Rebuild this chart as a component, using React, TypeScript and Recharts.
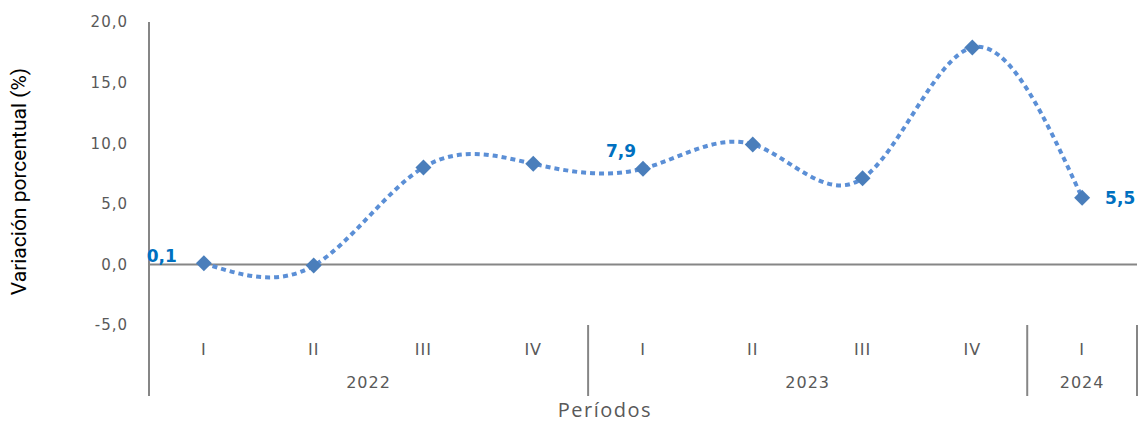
import React from 'react';
import { ComposedChart, Line, XAxis, YAxis, ReferenceLine, LabelList } from 'recharts';

const quarters = ['I', 'II', 'III', 'IV', 'I', 'II', 'III', 'IV', 'I'];
const years = ['2022', '2022', '2022', '2022', '2023', '2023', '2023', '2023', '2024'];
const variation = [0.1, -0.1, 8.0, 8.3, 7.9, 9.9, 7.1, 17.9, 5.5];
const shownLabels = [true, false, false, false, true, false, false, false, true];
const yTicks = [-5, 0, 5, 10, 15, 20];

const data = quarters.map((q, i) => ({
  key: `${years[i]}-${q}-${i}`,
  quarter: q,
  year: years[i],
  value: variation[i],
  label: shownLabels[i] ? variation[i].toFixed(1).replace('.', ',') : '',
}));

const W = 1141;
const H = 425;
const LEFT = 149;
const RIGHT = 4;
const TOP = 22;
const PLOT_H = 303;
const AXIS_H = 71;
const BAND = (W - LEFT - RIGHT) / quarters.length;
const GRAY = '#868686';
const TEXT = '#595959';
const BLUE = '#0070C0';
const FONT = "'DejaVu Sans', Verdana, sans-serif";

const fmt = (v: number) => v.toFixed(1).replace('.', ',');

function QuarterTick(props: any) {
  const { x, y, payload, index } = props;
  const i = index ?? payload.index;
  const year = years[i];
  const first = i === 0 || years[i - 1] !== year;
  const last = i === years.length - 1;
  let groupSize = 0;
  for (let j = i; j < years.length && years[j] === year; j++) groupSize++;
  return (
    <g>
      <text x={x} y={y + 25} textAnchor="middle" dominantBaseline="middle"
        fontFamily={FONT} fontSize={16} letterSpacing={1} fill={TEXT}>
        {quarters[i]}
      </text>
      {first && (
        <>
          <line x1={x - BAND / 2} x2={x - BAND / 2} y1={y} y2={y + AXIS_H} stroke={GRAY} strokeWidth={2} />
          <text x={x + ((groupSize - 1) * BAND) / 2} y={y + 58} textAnchor="middle" dominantBaseline="middle"
            fontFamily={FONT} fontSize={16} letterSpacing={1} fill={TEXT}>
            {year}
          </text>
        </>
      )}
      {last && <line x1={x + BAND / 2} x2={x + BAND / 2} y1={y} y2={y + AXIS_H} stroke={GRAY} strokeWidth={2} />}
    </g>
  );
}

function Diamond(props: any) {
  const { cx, cy } = props;
  if (cx == null || cy == null) return null;
  const r = 8;
  return <path d={`M${cx},${cy - r}L${cx + r},${cy}L${cx},${cy + r}L${cx - r},${cy}Z`} fill="#4A7EBB" />;
}

function ValueLabel(props: any) {
  const { x, y, value, index } = props;
  if (!value) return null;
  let dx = 0;
  let dy = 0;
  let anchor: 'start' | 'middle' | 'end' = 'middle';
  if (index === 0) { dx = -27; dy = -6; anchor = 'end'; }
  else if (index === quarters.length - 1) { dx = 23; dy = 1; anchor = 'start'; }
  else { dx = -22; dy = -17; anchor = 'middle'; }
  return (
    <text x={x + dx} y={y + dy} textAnchor={anchor} dominantBaseline="middle"
      fontFamily={FONT} fontWeight="bold" fontSize={17} fill={BLUE}>
      {value}
    </text>
  );
}

export default function App() {
  return (
    <div style={{ position: 'absolute', left: 0, top: 0, background: '#fff' }}>
      <ComposedChart width={W} height={H} data={data}
        margin={{ top: TOP, right: RIGHT, left: 0, bottom: H - TOP - PLOT_H - AXIS_H }}>
        <XAxis dataKey="key" scale="band" height={AXIS_H} axisLine={false} tickLine={false}
          tickSize={0} tickMargin={0} interval={0}
          tick={<QuarterTick />}
          label={{
            value: 'Períodos',
            content: (p: any) => {
              const vb = p.viewBox;
              return (
                <text x={vb.x + vb.width / 2 - 38} y={vb.y + vb.height + 16} textAnchor="middle" dominantBaseline="middle"
                  fontFamily="'Open Sans', sans-serif" fontSize={20} letterSpacing={1.5} fill={TEXT}>
                  Períodos
                </text>
              );
            },
          }} />
        <YAxis width={LEFT} domain={[-5, 20]} ticks={yTicks} tickFormatter={fmt} interval={0}
          axisLine={{ stroke: GRAY, strokeWidth: 2 }} tickLine={false} tickMargin={15}
          tick={{ fill: TEXT, fontSize: 15, letterSpacing: 1, fontFamily: FONT }}
          label={{
            value: 'Variación porcentual (%)',
            content: (p: any) => {
              const vb = p.viewBox;
              const cx = vb.x + 20;
              const cy = vb.y + vb.height / 2 + 8;
              return (
                <text x={cx} y={cy} transform={`rotate(-90 ${cx} ${cy})`} textAnchor="middle" dominantBaseline="middle"
                  fontFamily="Roboto, sans-serif" fontSize={21} fill="#000">
                  Variación porcentual (%)
                </text>
              );
            },
          }} />
        <ReferenceLine y={0} stroke={GRAY} strokeWidth={2} />
        <Line type="natural" dataKey="value" stroke="#5B8FD6" strokeWidth={4} strokeDasharray="5 4"
          dot={<Diamond />} activeDot={false} isAnimationActive={false}>
          <LabelList dataKey="label" content={<ValueLabel />} />
        </Line>
      </ComposedChart>
    </div>
  );
}
